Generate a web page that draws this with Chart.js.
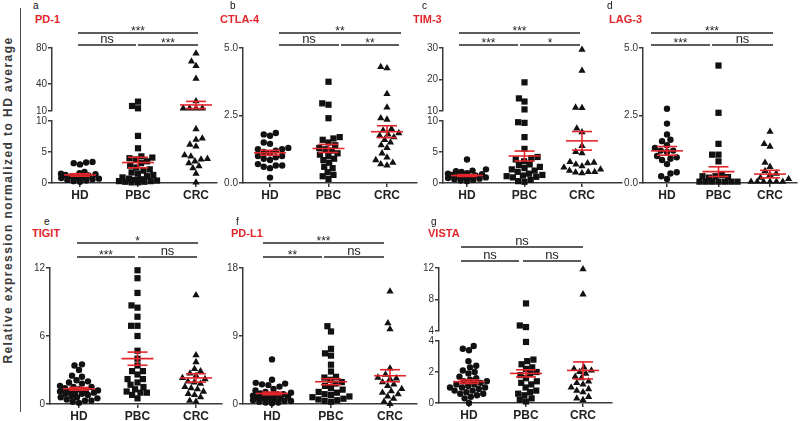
<!DOCTYPE html>
<html>
<head>
<meta charset="utf-8">
<script src="https://cdn.jsdelivr.net/npm/chart.js@4.4.1/dist/chart.umd.min.js"></script>
<style>
html,body{margin:0;padding:0;background:#fff;width:800px;height:421px;overflow:hidden;position:relative;font-family:"Liberation Sans",Arial,sans-serif}
canvas{position:absolute}
.t{position:absolute;white-space:nowrap;line-height:1}
</style>
</head>
<body>
<script>
// ---------------- DATA ----------------
const categories = ['HD', 'PBC', 'CRC'];

// a  PD-1
const pd1HD  = [3.4, 3.3, 3.2, 3.0, 1.8, 1.6, 1.5, 1.4, 1.3, 1.2, 1.1, 1.0, 0.9, 0.8, 0.7, 0.6, 0.5, 0.4, 0.3, 0.2];
const pd1PBC = [20.4, 15.6, 13.0, 7.6, 5.6, 4.3, 4.1, 4.0, 3.8, 3.5, 3.2, 2.8, 2.5, 2.2, 2.0, 1.7, 1.5, 1.3, 1.1, 0.9, 0.7, 0.6, 0.5, 0.4, 0.3, 0.3, 0.2, 0.2, 0.1, 0.1];
const pd1CRC = [74, 65, 60, 46, 21, 13, 13, 13, 13, 8.7, 7.2, 7.0, 6.2, 5.9, 4.5, 4.3, 3.9, 3.8, 3.5, 3.2, 2.7, 2.4, 1.5, 0.1];
const pd1Mean = [1.3, 3.3, 16.7];
const pd1Sem  = [0.2, 0.85, 4.0];
const pd1TicksLow  = [0, 5, 10];
const pd1TicksHigh = [10, 40, 80];
const pd1Sig = ['***', 'ns', '***'];

// b  CTLA-4
const ctla4HD  = [1.85, 1.8, 1.75, 1.5, 1.45, 1.3, 1.25, 1.25, 1.2, 1.15, 1.1, 1.0, 1.0, 0.95, 0.9, 0.85, 0.7, 0.65, 0.65, 0.6, 0.55, 0.2];
const ctla4PBC = [3.75, 2.95, 2.9, 2.4, 1.7, 1.65, 1.6, 1.5, 1.4, 1.3, 1.25, 1.2, 1.1, 1.05, 1.0, 0.9, 0.85, 0.75, 0.6, 0.55, 0.4, 0.3, 0.25, 0.15];
const ctla4CRC = [4.3, 4.25, 3.3, 2.8, 2.4, 2.35, 2.0, 1.95, 1.85, 1.8, 1.75, 1.7, 1.6, 1.5, 1.4, 1.3, 1.1, 0.95, 0.85, 0.75, 0.7, 0.65];
const ctla4Mean = [1.12, 1.28, 1.9];
const ctla4Sem  = [0.09, 0.15, 0.22];
const ctla4Ticks = [0, 2.5, 5];
const ctla4Sig = ['**', 'ns', '**'];

// c  TIM-3
const tim3HD  = [3.8, 2.2, 2.0, 1.9, 1.8, 1.6, 1.5, 1.4, 1.3, 1.2, 1.1, 1.0, 1.0, 0.9, 0.8, 0.7, 0.6, 0.5, 0.4, 0.3];
const tim3PBC = [19.1, 14.0, 13.0, 10.5, 9.8, 9.7, 7.4, 5.5, 4.2, 4.0, 3.8, 3.5, 3.0, 2.9, 2.6, 2.4, 2.2, 2.0, 1.8, 1.5, 1.3, 1.2, 1.1, 1.0, 0.9, 0.5, 0.3, 0.2];
const tim3CRC = [29.5, 22.8, 11.1, 11.0, 8.8, 8.2, 6.0, 5.0, 4.8, 3.4, 3.3, 3.2, 3.0, 2.7, 2.5, 2.2, 2.0, 1.8, 1.8, 1.7, 1.6];
const tim3Mean = [1.2, 4.35, 6.8];
const tim3Sem  = [0.15, 0.8, 1.5];
const tim3TicksLow  = [0, 5, 10];
const tim3TicksHigh = [10, 20, 30];
const tim3Sig = ['***', '***', '*'];

// d  LAG-3
const lag3HD  = [2.75, 2.2, 1.8, 1.6, 1.55, 1.4, 1.3, 1.2, 1.2, 1.15, 1.0, 0.95, 0.9, 0.85, 0.7, 0.4, 0.35, 0.25, 0.15];
const lag3PBC = [4.35, 2.6, 1.45, 1.05, 1.05, 0.8, 0.3, 0.25, 0.25, 0.22, 0.2, 0.05, 0.05, 0.05, 0.05, 0.05, 0.05, 0.05];
const lag3CRC = [1.9, 1.45, 1.35, 0.75, 0.6, 0.45, 0.35, 0.3, 0.2, 0.15, 0.05, 0.05, 0.05, 0.05, 0.05, 0.05];
const lag3Mean = [1.19, 0.42, 0.33];
const lag3Sem  = [0.16, 0.18, 0.14];
const lag3Ticks = [0, 2.5, 5];
const lag3Sig = ['***', '***', 'ns'];

// e  TIGIT
const tigitHD  = [3.5, 3.4, 3.0, 2.5, 2.4, 2.1, 2.0, 1.9, 1.8, 1.6, 1.5, 1.5, 1.4, 1.3, 1.2, 1.2, 1.1, 1.1, 1.0, 1.0, 0.9, 0.9, 0.8, 0.7, 0.6, 0.6, 0.5, 0.4, 0.3, 0.3, 0.2, 0.1];
const tigitPBC = [11.8, 11.1, 9.8, 8.7, 8.5, 7.7, 6.9, 6.9, 6.0, 4.7, 4.0, 3.4, 2.9, 2.9, 2.6, 2.2, 2.2, 1.9, 1.7, 1.5, 1.3, 1.1, 1.0, 1.0, 0.8, 0.5];
const tigitCRC = [9.6, 4.3, 3.7, 3.1, 2.9, 2.7, 2.5, 2.3, 2.2, 2.0, 1.9, 1.8, 1.5, 1.4, 1.3, 1.1, 0.9, 0.8, 0.6, 0.3, 0.2];
const tigitMean = [1.34, 4.0, 2.3];
const tigitSem  = [0.12, 0.58, 0.37];
const tigitTicks = [0, 6, 12];
const tigitSig = ['*', '***', 'ns'];

// f  PD-L1
const pdl1HD  = [5.9, 3.2, 2.8, 2.7, 2.6, 2.5, 2.3, 2.0, 1.8, 1.6, 1.5, 1.4, 1.3, 1.3, 1.2, 1.1, 1.0, 1.0, 0.9, 0.8, 0.8, 0.7, 0.6, 0.5, 0.4, 0.4, 0.3, 0.2, 0.2, 0.1];
const pdl1PBC = [10.3, 9.6, 7.3, 6.7, 6.4, 5.2, 4.3, 3.6, 3.5, 3.2, 2.9, 2.7, 2.4, 2.1, 1.9, 1.6, 1.5, 1.3, 1.2, 1.0, 0.9, 0.7, 0.6, 0.5, 0.4, 0.3];
const pdl1CRC = [14.9, 10.7, 9.9, 4.7, 3.9, 3.5, 3.4, 3.3, 2.9, 2.6, 2.4, 2.0, 1.7, 1.5, 1.3, 1.0, 0.7, 0.3, 0.0];
const pdl1Mean = [1.4, 2.95, 3.74];
const pdl1Sem  = [0.18, 0.4, 0.8];
const pdl1Ticks = [0, 9, 18];
const pdl1Sig = ['***', '**', 'ns'];

// g  VISTA
const vistaHD  = [3.68, 3.5, 3.4, 2.7, 2.4, 2.3, 2.1, 2.0, 1.9, 1.7, 1.6, 1.5, 1.4, 1.4, 1.3, 1.2, 1.2, 1.1, 1.0, 1.0, 1.0, 0.9, 0.8, 0.8, 0.7, 0.6, 0.6, 0.5, 0.4, 0.3, 0.0];
const vistaPBC = [7.5, 4.7, 4.5, 3.94, 2.8, 2.7, 2.5, 2.3, 2.2, 2.0, 1.9, 1.8, 1.6, 1.4, 1.3, 1.2, 1.0, 0.8, 0.7, 0.6, 0.5, 0.3, 0.2, 0.1];
const vistaCRC = [11.85, 8.66, 2.3, 2.2, 2.1, 2.0, 1.9, 1.7, 1.6, 1.4, 1.3, 1.2, 1.0, 0.9, 0.8, 0.7, 0.4, 0.3, 0.2];
const vistaMean = [1.38, 1.91, 2.1];
const vistaSem  = [0.12, 0.23, 0.55];
const vistaTicksLow  = [0, 2, 4];
const vistaTicksHigh = [4, 8, 12];
const vistaSig = ['ns', 'ns', 'ns'];

const yAxisTitle = 'Relative expression normalized to HD average';

// ---------------- LAYOUT (positions / styles only) ----------------
const RED = '#e2262b', INK = '#262626', AXC = '#3a3a3a';
const FONT = '"Liberation Sans", Arial, sans-serif';
Chart.defaults.font.family = FONT;

const panels = [
  {letter:'a', title:'PD-1', lx:33, tx:35, row:0, groups:[pd1HD,pd1PBC,pd1CRC], mean:pd1Mean, sem:pd1Sem, sig:pd1Sig,
   axisX:52, rightX:217, hdX:80, crcX:196,
   parts:[{min:0,max:10,ticks:pd1TicksLow,top:121,bottom:183},{min:10,max:80,ticks:pd1TicksHigh,top:48,bottom:111}],
   bars:[[78,198,33],[78,136,45],[138,198,45]]},
  {letter:'b', title:'CTLA-4', lx:230, tx:220, row:0, groups:[ctla4HD,ctla4PBC,ctla4CRC], mean:ctla4Mean, sem:ctla4Sem, sig:ctla4Sig,
   axisX:243, rightX:417, hdX:270, crcX:387,
   parts:[{min:0,max:5,ticks:ctla4Ticks,dec:1,top:48,bottom:183}],
   bars:[[279,401,33],[279,339,45],[341,399,45]]},
  {letter:'c', title:'TIM-3', lx:422, tx:413, row:0, groups:[tim3HD,tim3PBC,tim3CRC], mean:tim3Mean, sem:tim3Sem, sig:tim3Sig,
   axisX:443, rightX:622, hdX:467, crcX:582,
   parts:[{min:0,max:10,ticks:tim3TicksLow,top:121,bottom:183},{min:10,max:30,ticks:tim3TicksHigh,top:48,bottom:111}],
   bars:[[459,580,33],[459,518,45],[520,580,45]]},
  {letter:'d', title:'LAG-3', lx:607, tx:609, row:0, groups:[lag3HD,lag3PBC,lag3CRC], mean:lag3Mean, sem:lag3Sem, sig:lag3Sig,
   axisX:643, rightX:797, hdX:667, crcX:770,
   parts:[{min:0,max:5,ticks:lag3Ticks,dec:1,top:48,bottom:183}],
   bars:[[651,773,33],[651,710,45],[712,773,45]]},
  {letter:'e', title:'TIGIT', lx:44, tx:32, row:1, groups:[tigitHD,tigitPBC,tigitCRC], mean:tigitMean, sem:tigitSem, sig:tigitSig,
   axisX:50, rightX:222, hdX:79, crcX:196,
   parts:[{min:0,max:12,ticks:tigitTicks,top:268,bottom:404}],
   bars:[[77,198,243],[77,135,257],[138,197,257]]},
  {letter:'f', title:'PD-L1', lx:236, tx:231, row:1, groups:[pdl1HD,pdl1PBC,pdl1CRC], mean:pdl1Mean, sem:pdl1Sem, sig:pdl1Sig,
   axisX:243, rightX:417, hdX:272, crcX:390,
   parts:[{min:0,max:18,ticks:pdl1Ticks,top:268,bottom:404}],
   bars:[[263,384,243],[263,322,257],[324,384,257]]},
  {letter:'g', title:'VISTA', lx:431, tx:428, row:1, groups:[vistaHD,vistaPBC,vistaCRC], mean:vistaMean, sem:vistaSem, sig:vistaSig,
   axisX:439, rightX:612, hdX:469, crcX:583,
   parts:[{min:0,max:4,ticks:vistaTicksLow,top:341,bottom:403},{min:4,max:12,ticks:vistaTicksHigh,top:268,bottom:331}],
   bars:[[461,583,247],[461,519,261],[523,581,261]]}
];
const rowTop = [0, 212];
const letterBase = [9.5, 225.5];
const titleBase = [23.3, 237.7];
const pointStyles = ['circle', 'rect', 'triangle'];
const pointRadii = [3.2, 4.4, 4.2];
const YW = 34, XH = 24;
const SWARM_D = 6.4, SWARM_W = 19;

// ---------------- HELPERS ----------------
function addText(txt, left, top, css) {
  const d = document.createElement('div');
  d.className = 't';
  d.textContent = txt;
  d.style.left = left + 'px';
  d.style.top = top + 'px';
  Object.assign(d.style, css || {});
  document.body.appendChild(d);
  return d;
}
function addCanvas(left, top, w, h) {
  const c = document.createElement('canvas');
  c.width = w; c.height = h;
  c.style.left = left + 'px'; c.style.top = top + 'px';
  c.style.width = w + 'px'; c.style.height = h + 'px';
  document.body.appendChild(c);
  return c;
}
// deterministic, width-limited beeswarm layout (pixel space)
function swarmOffsets(values, toPx, d, maxW) {
  const order = values.map((v, i) => i).sort((a, b) => values[a] - values[b]);
  const placed = [];
  const offs = new Array(values.length).fill(0);
  const minDist = (c, y) => {
    let m = Infinity;
    for (const p of placed) { const dd = Math.hypot(p.x - c, p.y - y); if (dd < m) m = dd; }
    return m;
  };
  for (const i of order) {
    const y = toPx(values[i]);
    let cands = [0];
    for (const p of placed) {
      const dy = y - p.y;
      if (Math.abs(dy) < d) {
        const dx = Math.sqrt(d * d - dy * dy);
        cands.push(p.x + dx, p.x - dx);
      }
    }
    cands = cands.filter(c => Math.abs(c) <= maxW);
    cands.sort((a, b) => Math.abs(a) - Math.abs(b) || a - b);
    let chosen = null;
    for (const c of cands) {
      if (minDist(c, y) >= d - 0.01) { chosen = c; break; }
    }
    if (chosen === null) {
      let best = -1;
      for (let c = -maxW; c <= maxW + 1e-9; c += 0.5) {
        const md = minDist(c, y);
        if (md > best + 1e-6 || (Math.abs(md - best) <= 1e-6 && Math.abs(c) < Math.abs(chosen))) { best = md; chosen = c; }
      }
    }
    offs[i] = chosen; placed.push({x: chosen, y});
  }
  return offs;
}
function sigPlugin(bars, labels, ox, oy) {
  return {
    id: 'sigbars',
    afterDraw(chart) {
      const ctx = chart.ctx;
      ctx.save();
      ctx.strokeStyle = INK; ctx.fillStyle = INK; ctx.lineWidth = 1.6;
      ctx.textAlign = 'center'; ctx.textBaseline = 'alphabetic';
      bars.forEach((b, k) => {
        const y = b[2] - oy;
        ctx.beginPath(); ctx.moveTo(b[0] - ox, y); ctx.lineTo(b[1] - ox, y); ctx.stroke();
        const lab = labels[k];
        const stars = lab !== 'ns';
        ctx.font = (stars ? '12px ' : '13px ') + FONT;
        ctx.fillText(lab, (b[0] + b[1]) / 2 - ox, y + (stars ? 2 : -2));
      });
      ctx.restore();
    }
  };
}

// ---------------- BUILD ----------------
function buildPanel(P) {
  const xUnit = (P.crcX - P.hdX) / 2;
  const xmin = -(P.hdX - P.axisX) / xUnit;
  const xmax = xmin + (P.rightX - P.axisX) / xUnit;
  const parts = P.parts;
  const partOf = v => { for (let k = 0; k < parts.length; k++) { if (v <= parts[k].max || k === parts.length - 1) return k; } return 0; };
  const toPx = v => { const pt = parts[partOf(v)]; return pt.bottom - (v - pt.min) / (pt.max - pt.min) * (pt.bottom - pt.top); };

  const pts = parts.map(() => [[], [], []]);
  P.groups.forEach((vals, g) => {
    const offs = swarmOffsets(vals, toPx, SWARM_D, SWARM_W);
    vals.forEach((v, i) => pts[partOf(v)][g].push({x: g + offs[i] / xUnit, y: v}));
  });

  addText(P.letter, P.lx, letterBase[P.row] - 8.5, {fontSize: '10px', color: '#111'});
  addText(P.title, P.tx, titleBase[P.row] - 9.3, {fontSize: '11px', fontWeight: 'bold', color: RED});

  parts.forEach((pt, k) => {
    const isLowest = k === 0, isTop = k === parts.length - 1;
    const cl = P.axisX - YW;
    const cw = P.rightX + 10 - cl;
    const ct = isTop ? rowTop[P.row] : pt.top - 10;
    const cb = isLowest ? pt.bottom + XH + 4 : pt.bottom + 8;
    const canvas = addCanvas(cl, ct, cw, cb - ct);

    const datasets = [];
    const inR = v => v >= pt.min - 1e-9 && v <= pt.max + 1e-9;
    const line = (x1, y1, x2, y2) => datasets.push({
      data: [{x: x1, y: y1}, {x: x2, y: y2}], showLine: true, borderColor: RED, borderWidth: 1.6,
      pointRadius: 0, clip: false, order: 0
    });
    for (let g = 0; g < 3; g++) {
      const m = P.mean[g], s = P.sem[g], hi = m + s, lo = m - s;
      const hw = 16 / xUnit, cw2 = 10 / xUnit;
      if (inR(m)) line(g - hw, m, g + hw, m);
      if (inR(hi)) line(g - cw2, hi, g + cw2, hi);
      if (inR(lo)) line(g - cw2, lo, g + cw2, lo);
      if (lo < pt.max && hi > pt.min) line(g, Math.max(lo, pt.min), g, Math.min(hi, pt.max));
    }
    for (let g = 0; g < 3; g++) {
      datasets.push({
        data: pts[k][g], pointStyle: pointStyles[g], pointRadius: pointRadii[g],
        backgroundColor: '#111', borderWidth: 0, pointBorderWidth: 0, clip: false, order: 1
      });
    }

    const tickGrid = {display: true, drawOnChartArea: false, drawTicks: true, tickLength: 4, color: AXC, lineWidth: 1.5};
    const border = {display: true, color: AXC, width: 1.5};
    const plugins = isTop ? [sigPlugin(P.bars, P.sig, cl, ct)] : [];

    new Chart(canvas, {
      type: 'scatter',
      data: {datasets},
      plugins,
      options: {
        responsive: false, animation: false, devicePixelRatio: 1, events: [],
        layout: {padding: {left: 0, right: 10, top: pt.top - ct, bottom: (cb - pt.bottom) - (isLowest ? XH : 0)}},
        plugins: {legend: {display: false}, tooltip: {enabled: false}, title: {display: false}},
        scales: {
          x: {
            type: 'linear', min: xmin, max: xmax, display: isLowest,
            afterBuildTicks: s => { s.ticks = [0, 1, 2].map(v => ({value: v})); },
            afterFit: s => { if (isLowest) s.height = XH; },
            ticks: {callback: v => categories[v], font: {size: 12, weight: 'bold'}, color: '#222', padding: 1, maxRotation: 0, autoSkip: false},
            grid: tickGrid, border
          },
          y: {
            type: 'linear', min: pt.min, max: pt.max,
            afterBuildTicks: s => { s.ticks = pt.ticks.map(v => ({value: v})); },
            afterFit: s => { s.width = YW; },
            ticks: {callback: v => pt.dec ? Number(v).toFixed(pt.dec) : String(v), font: {size: 10}, color: '#333', padding: 1},
            grid: tickGrid, border
          }
        }
      }
    });
  });
}

addText(yAxisTitle, 0, 0, {fontSize: '12px', fontWeight: 'bold', color: '#3a3a3a', letterSpacing: '1.45px',
  left: '8px', top: '200px', transform: 'translate(-50%,-50%) rotate(-90deg)'});
const rule = document.createElement('div');
Object.assign(rule.style, {position: 'absolute', left: '19.5px', top: '8px', width: '1.6px', height: '404px', background: '#4a4a4a'});
document.body.appendChild(rule);

panels.forEach(buildPanel);
</script>
</body>
</html>
